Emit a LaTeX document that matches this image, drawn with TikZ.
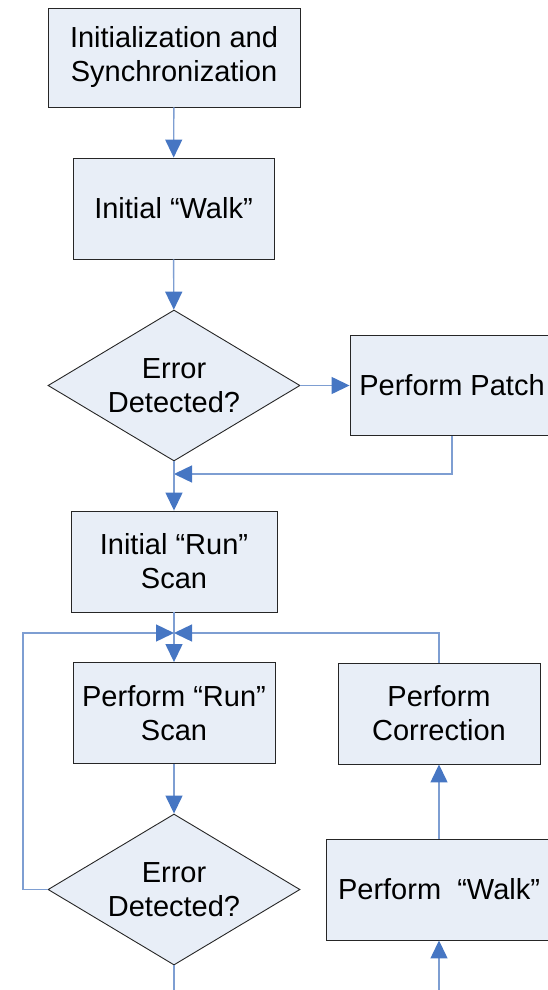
\documentclass[tikz,border=0pt]{standalone}
\usepackage{fontspec}
\setmainfont{Liberation Sans}
\usetikzlibrary{
  positioning,
  shapes.geometric,
  arrows.meta
}
\definecolor{boxfill}{RGB}{232,238,247}
\definecolor{linkblue}{RGB}{126,158,210}
\definecolor{tipblue}{RGB}{70,118,195}

\begin{document}
\begin{tikzpicture}[x=1pt,y=-1pt,
    >={Triangle[length=18pt,width=17pt,color=tipblue]},
    every node/.style={font=\fontsize{29}{34}\selectfont,align=center,inner sep=0pt},
    block/.style={draw=black!85,fill=boxfill,line width=0.9pt,minimum width=#1,minimum height=101pt},
    block/.default=202pt,
    decision/.style={diamond,draw=black!85,fill=boxfill,line width=0.9pt,aspect=1.67,
      minimum width=252pt,minimum height=151pt},
    flow/.style={draw=linkblue,line width=1.4pt}]
        \useasboundingbox (0,0) rectangle (548,990);
        \clip (0,0) rectangle (548,990);
        \node[block=252pt,minimum height=99pt] (init) at (174,57.5) {Initialization and\\Synchronization};
        \node[block=201pt] (walk) at (173.5,208.5) {Initial “Walk”};
        \node[decision] (err1) at (174,385.5) {Error\\Detected?};
        \node[block=204pt,minimum height=100pt] (patch) at (452,385.5) {Perform Patch};
        \node[block=206pt] (run) at (174,561.5) {Initial “Run”\\Scan};
        \node[block] (scan) at (174,713) {Perform “Run”\\Scan};
        \node[block] (corr) at (439,713.5) {Perform\\Correction};
        \node[decision] (err2) at (174,889.5) {Error\\Detected?};
        \node[block=226pt] (walkP) at (439,889.5) {Perform~~“Walk”};
        \coordinate (merge1) at (174,474);
        \coordinate (merge2) at (174,633);
        \coordinate (loopL) at (23,633);
        \coordinate (exitD) at (174,990);
        \coordinate (entryW) at (439,990);
        \draw[flow,->] (init) -- (walk);
        \draw[flow,->] (walk) -- (err1);
        \draw[flow,->] (err1.east) -- (patch.west);
        \draw[flow,->] (patch.south) |- (merge1);
        \draw[flow,->] (err1.south) -- (run);
        \draw[flow] (run) -- (merge2);
        \draw[flow,->] (merge2) -- (scan);
        \draw[flow,->] (err2.west) -| (loopL) -- (merge2);
        \draw[flow,->] (corr.north) |- (merge2);
        \draw[flow,->] (scan) -- (err2.north);
        \draw[flow] (err2.south) -- (exitD);
        \draw[flow,->] (entryW) -- (walkP);
        \draw[flow,->] (walkP) -- (corr);
    \end{tikzpicture}
\end{document}
